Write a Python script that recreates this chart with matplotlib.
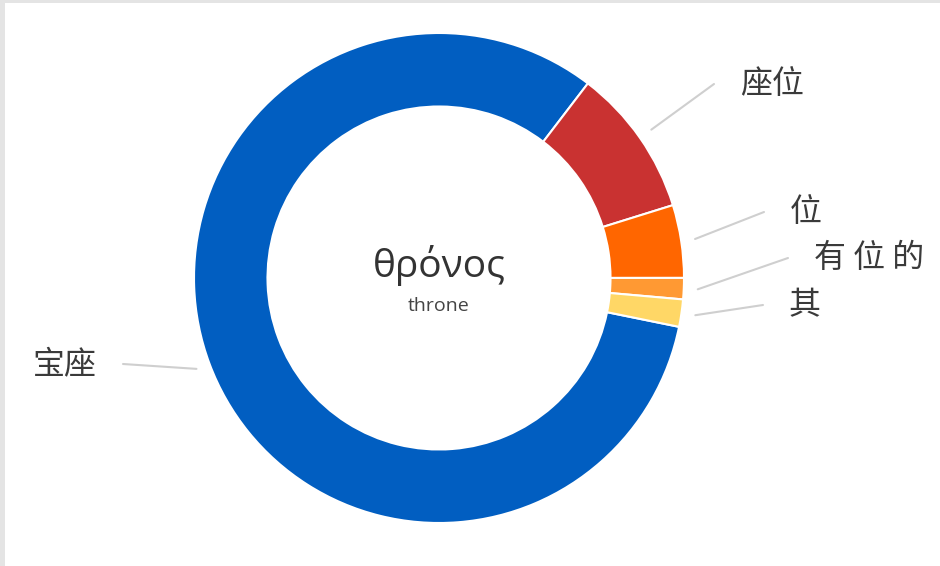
import numpy as np
import matplotlib
matplotlib.use("Agg")
import matplotlib.pyplot as plt
from matplotlib.patches import Rectangle

plt.rcParams['font.family'] = ['Noto Sans CJK SC', 'DejaVu Sans']

# data
labels = ["宝座", "座位", "位", "有 位 的", "其"]
shares = [82.2, 9.8, 4.8, 1.4, 1.8]
colors = ["#015EC1", "#C93231", "#FF6600", "#FF9933", "#FFD766"]
center_word = "θρόνος"
center_sub = "throne"

W, H = 940, 566
fig = plt.figure(figsize=(W / 100, H / 100), dpi=100, facecolor="#e4e4e4")
ax = fig.add_axes([0, 0, 1, 1])

# white card behind the chart
ax.add_patch(Rectangle((5, 0), W, H - 3, facecolor="white", edgecolor="none", zorder=-10))

cx, cy, R = 439, H - 278, 245
wedges, _ = ax.pie(shares, colors=colors, startangle=-11.5, counterclock=False,
                   center=(cx, cy), radius=R, frame=True,
                   wedgeprops=dict(width=R * 0.3, edgecolor="white", linewidth=1.5))
ax.set_xlim(0, W)
ax.set_ylim(0, H)
ax.set_aspect("equal")
ax.axis("off")

# label end points of leader lines (pixel coords, y down)
ends = [(123, 364), (714, 84), (764, 212), (788, 258), (763, 305)]
for w, lab, (ex, ey) in zip(wedges, labels, ends):
    mid = np.deg2rad((w.theta1 + w.theta2) / 2)
    sx = cx + (R + 14) * np.cos(mid)
    sy = cy + (R + 14) * np.sin(mid)
    ey = H - ey
    ax.plot([sx, ex], [sy, ey], color="#cfcfcf", lw=1.5, solid_capstyle="round")
    if ex < cx:
        ax.text(ex - 26, ey, lab, ha="right", va="center", fontsize=23, color="#3a3a3a")
    else:
        ax.text(ex + 26, ey, lab, ha="left", va="center", fontsize=23, color="#3a3a3a")

ax.text(cx, cy + 12, center_word, ha="center", va="center", fontsize=28,
        color="#333333", family=["Open Sans", "DejaVu Sans"])
ax.text(cx, cy - 28, center_sub, ha="center", va="center", fontsize=14,
        color="#444444", family=["Open Sans", "DejaVu Sans"])

fig.savefig("out.png", dpi=100, facecolor=fig.get_facecolor())
